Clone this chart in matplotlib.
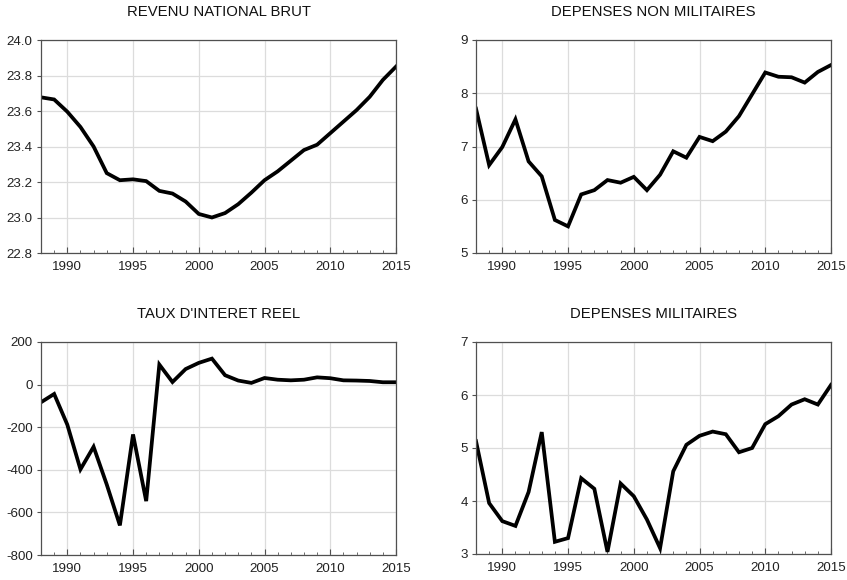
import numpy as np
import matplotlib.pyplot as plt
from matplotlib.ticker import MultipleLocator

plt.rcParams['font.family'] = ['Liberation Sans', 'DejaVu Sans']

years = np.arange(1988, 2016)

rnb = [23.677, 23.665, 23.596, 23.51, 23.40, 23.25, 23.21, 23.215, 23.205, 23.15,
       23.135, 23.09, 23.02, 23.0, 23.025, 23.075, 23.14, 23.21, 23.26, 23.32,
       23.38, 23.41, 23.475, 23.54, 23.605, 23.68, 23.775, 23.85]

dep_non_mil = [7.71, 6.65, 6.99, 7.51, 6.72, 6.44, 5.62, 5.50, 6.10, 6.18,
               6.37, 6.32, 6.43, 6.18, 6.47, 6.91, 6.79, 7.18, 7.10, 7.28,
               7.57, 7.98, 8.39, 8.31, 8.30, 8.20, 8.40, 8.53]

taux_reel = [-83, -44, -188, -398, -292, -469, -661, -234, -547, 94,
             12, 73, 102, 122, 44, 19, 8, 31, 23, 20,
             23, 34, 30, 20, 19, 17, 11, 11]

dep_mil = [5.13, 3.96, 3.62, 3.53, 4.17, 5.30, 3.23, 3.30, 4.43, 4.23,
           3.04, 4.33, 4.09, 3.65, 3.11, 4.56, 5.06, 5.23, 5.31, 5.26,
           4.92, 5.00, 5.45, 5.60, 5.82, 5.92, 5.82, 6.19]

titles = ["REVENU NATIONAL BRUT", "DEPENSES NON MILITAIRES",
          "TAUX D'INTERET REEL", "DEPENSES MILITAIRES"]
series = [rnb, dep_non_mil, taux_reel, dep_mil]
ylims = [(22.8, 24.0), (5, 9), (-800, 200), (3, 7)]
ysteps = [0.2, 1, 200, 1]
yfmt = ["{:.1f}", "{:.0f}", "{:.0f}", "{:.0f}"]

fig = plt.figure(figsize=(8.47, 5.80), dpi=100)
W, H = 847, 580
boxes = [(41, 40, 396, 253), (476, 40, 831, 253),
         (41, 342, 396, 555), (476, 342, 831, 554)]

for (x0, y0, x1, y1), ttl, vals, yl, st, fm in zip(boxes, titles, series, ylims, ysteps, yfmt):
    ax = fig.add_axes([x0 / W, 1 - y1 / H, (x1 - x0) / W, (y1 - y0) / H])
    ax.plot(years, vals, color='black', lw=2.7, solid_joinstyle='miter')
    ax.set_xlim(1988, 2015)
    ax.set_ylim(*yl)
    ax.xaxis.set_major_locator(MultipleLocator(5))
    ax.xaxis.set_minor_locator(MultipleLocator(1))
    ticks = np.arange(yl[0], yl[1] + st / 2, st)
    ax.set_yticks(ticks)
    ax.set_yticklabels([fm.format(t) for t in ticks])
    ax.grid(True, which='major', color='#dcdcdc', lw=0.9)
    ax.set_axisbelow(True)
    for s in ax.spines.values():
        s.set_color('#505050')
        s.set_linewidth(0.9)
    ax.tick_params(axis='x', which='both', direction='in', color='#505050',
                   labelsize=9.6, pad=6, top=False, labelcolor='#222222')
    ax.tick_params(axis='x', which='major', length=4)
    ax.tick_params(axis='x', which='minor', length=2.5)
    ax.tick_params(axis='y', which='major', direction='out', length=3,
                   color='#505050', labelsize=9.6, pad=3, labelcolor='#222222')
    ax.set_title(ttl, fontsize=10.7, pad=17, color='#111111')

fig.savefig('out.png', dpi=100)
